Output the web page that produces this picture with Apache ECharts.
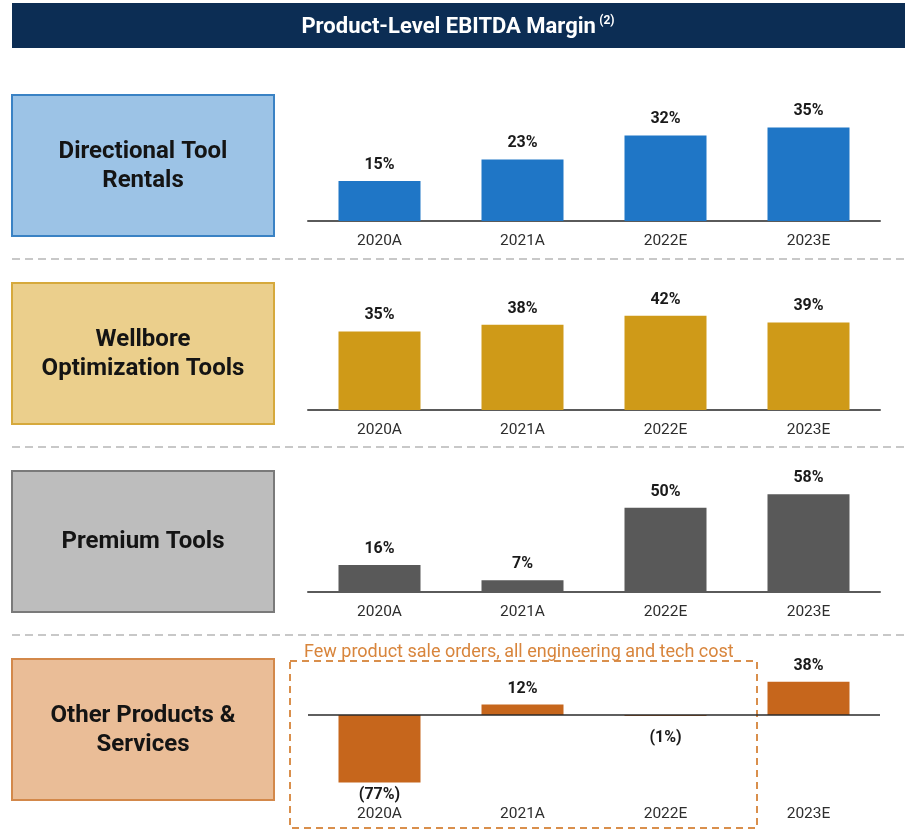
<!DOCTYPE html>
<html>
<head>
<meta charset="utf-8">
<script src="https://cdn.jsdelivr.net/npm/echarts@6/dist/echarts.min.js"></script>
<style>
  html, body { margin: 0; padding: 0; background: #ffffff; }
  #chart { width: 914px; height: 831px; }
</style>
</head>
<body>
<div id="chart"></div>
<script>
// Product-level EBITDA margin by segment, actuals and estimates
const years = ['2020A', '2021A', '2022E', '2023E'];
const directionalRentals = [15, 23, 32, 35];
const wellboreTools = [35, 38, 42, 39];
const premiumTools = [16, 7, 50, 58];
const otherProducts = [-77, 12, -1, 38];

const segmentNames = ['Directional Tool\nRentals', 'Wellbore\nOptimization Tools', 'Premium Tools', 'Other Products &\nServices'];
const titleText = 'Product-Level EBITDA Margin';
const noteText = 'Few product sale orders, all engineering and tech cost';

const FONT = 'Roboto, "Liberation Sans", sans-serif';

// per-row layout: grid placement and value range
const rows = [
  { data: directionalRentals, color: '#1f76c6', top: 114, height: 107, min: 0, max: 40,
    boxY: 95, boxFill: '#9cc3e6', boxStroke: '#3a82c4' },
  { data: wellboreTools, color: '#cf9a18', top: 309, height: 101, min: 0, max: 45,
    boxY: 283, boxFill: '#ebcf8c', boxStroke: '#d6a93c' },
  { data: premiumTools, color: '#595959', top: 491, height: 101, min: 0, max: 60,
    boxY: 471, boxFill: '#bdbdbd', boxStroke: '#7a7a7a' },
  { data: otherProducts, color: '#c6661c', top: 680, height: 105, min: -80, max: 40,
    boxY: 659, boxFill: '#eabd97', boxStroke: '#d3884a' }
];

function pctLabel(v) {
  return v < 0 ? '(' + (-v) + '%)' : v + '%';
}

const grids = [], xAxes = [], yAxes = [], series = [];
rows.forEach((r, i) => {
  const hasNeg = r.min < 0;
  grids.push({ left: 308, width: 572, top: r.top, height: r.height });
  xAxes.push({
    type: 'category', gridIndex: i, data: years,
    axisTick: { show: false },
    axisLine: { show: !hasNeg, onZero: false, lineStyle: { color: '#5a5a5a', width: 2 } },
    axisLabel: { margin: hasNeg ? 21 : 12, fontFamily: FONT, fontSize: 15.5, color: '#2e2e2e' }
  });
  yAxes.push({
    type: 'value', gridIndex: i, min: r.min, max: r.max, show: false,
    splitLine: { show: false }
  });
  series.push({
    type: 'bar', xAxisIndex: i, yAxisIndex: i, barWidth: 82,
    itemStyle: { color: r.color },
    data: r.data.map(v => ({
      value: v,
      label: {
        position: v < 0 ? 'bottom' : 'top',
        distance: v < 0 ? (v < -10 ? 5 : 14) : 8
      }
    })),
    label: {
      show: true, fontFamily: FONT, fontSize: 16, fontWeight: 'bold', color: '#1a1a1a',
      formatter: p => pctLabel(p.value)
    },
    markLine: hasNeg ? {
      silent: true, symbol: 'none', label: { show: false },
      lineStyle: { type: 'solid', color: '#2a2a2a', width: 1.5 },
      data: [{ yAxis: 0 }]
    } : undefined
  });
});

const graphics = [
  // title banner
  { type: 'rect', shape: { x: 12, y: 3, width: 893, height: 45 }, style: { fill: '#0c2d54' } },
  { type: 'text', x: 458, y: 27,
    style: {
      text: '{t|' + titleText + '} {s|(2)}',
      align: 'center', verticalAlign: 'middle', fill: '#ffffff',
      rich: {
        t: { fontFamily: FONT, fontSize: 22, fontWeight: 'bold', fill: '#ffffff', lineHeight: 25 },
        s: { fontFamily: FONT, fontSize: 12, fontWeight: 'bold', fill: '#ffffff', verticalAlign: 'top', lineHeight: 25 }
      }
    } }
];

// dashed separators between rows
[259, 447, 635].forEach(y => {
  graphics.push({ type: 'line', shape: { x1: 12, y1: y, x2: 905, y2: y },
    style: { stroke: '#c8c8c8', lineWidth: 2, lineDash: [8, 5] } });
});

// segment name boxes
rows.forEach((r, i) => {
  graphics.push({ type: 'rect', shape: { x: 12, y: r.boxY, width: 262, height: 141 },
    style: { fill: r.boxFill, stroke: r.boxStroke, lineWidth: 2 } });
  graphics.push({ type: 'text', x: 143, y: r.boxY + 71,
    style: {
      text: segmentNames[i], align: 'center', verticalAlign: 'middle',
      fontFamily: FONT, fontSize: 24, fontWeight: 'bold', fill: '#141414', lineHeight: 29
    } });
});

// callout around the low-volume years
graphics.push({ type: 'rect', shape: { x: 290, y: 661, width: 467, height: 167 },
  style: { fill: 'none', stroke: '#d98f4c', lineWidth: 2, lineDash: [7, 5] } });
graphics.push({ type: 'text', x: 304, y: 652,
  style: { text: noteText, align: 'left', verticalAlign: 'middle',
    fontFamily: FONT, fontSize: 18, fill: '#d8853c' } });

const chart = echarts.init(document.getElementById('chart'), null, { renderer: 'canvas' });
chart.setOption({
  animation: false,
  grid: grids,
  xAxis: xAxes,
  yAxis: yAxes,
  series: series,
  graphic: graphics
});
</script>
</body>
</html>
